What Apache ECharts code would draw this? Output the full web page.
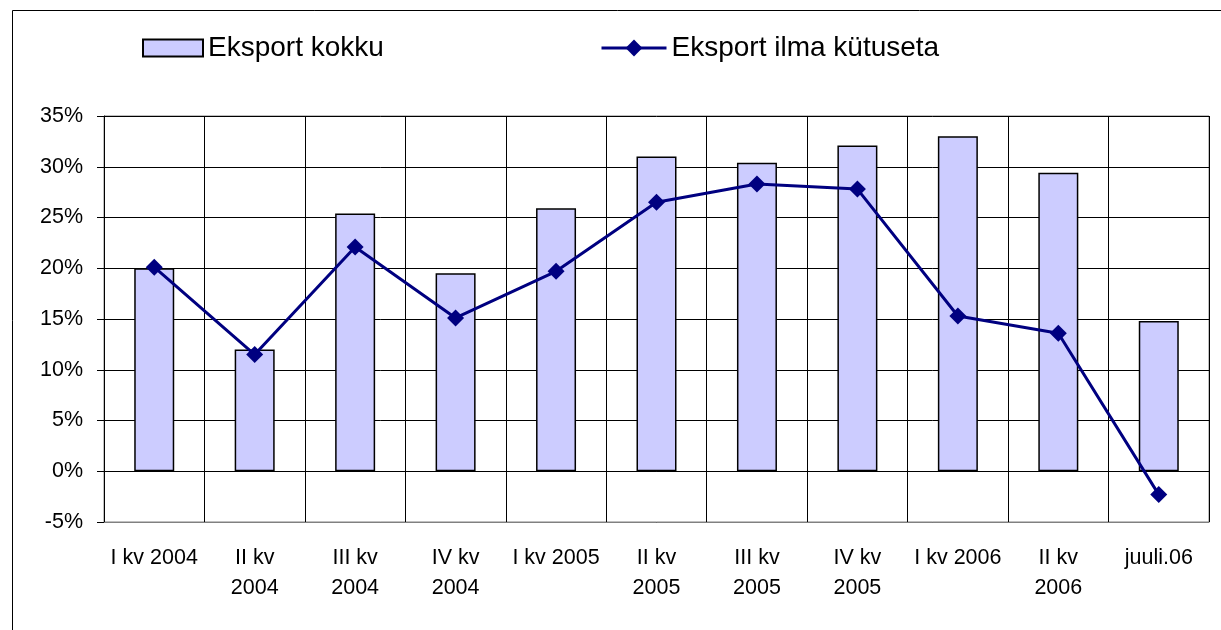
<!DOCTYPE html>
<html>
<head>
<meta charset="utf-8">
<script src="https://cdn.jsdelivr.net/npm/echarts@6/dist/echarts.min.js"></script>
<style>
  html, body { margin: 0; padding: 0; background: #fff; }
  #main { width: 1221px; height: 630px; }
</style>
</head>
<body>
<div id="main"></div>
<script>
// kvartalid (reavahetus nagu originaalis)
var categories = ['I kv 2004', 'II kv\n2004', 'III kv\n2004', 'IV kv\n2004', 'I kv 2005',
  'II kv\n2005', 'III kv\n2005', 'IV kv\n2005', 'I kv 2006', 'II kv\n2006', 'juuli.06']
var eksportKokku = [20.0, 12.0, 25.4, 19.5, 25.9, 31.0, 30.4, 32.1, 33.0, 29.4, 14.8]
var eksportIlmaKytuseta = [20.1, 11.5, 22.1, 15.1, 19.7, 26.5, 28.3, 27.8, 15.3, 13.6, -2.3]
var yMin = -5, yMax = 35, yStep = 5

var font = 'Liberation Sans, Arial, sans-serif'
var chart = echarts.init(document.getElementById('main'))

var option = {
  backgroundColor: '#fff',
  animation: false,
  graphic: [{
    type: 'rect',
    shape: { x: 12.5, y: 10.5, width: 1240, height: 660 },
    style: { fill: 'none', stroke: '#000', lineWidth: 1 },
    silent: true
  }],
  legend: [{
    top: 29,
    left: 137,
    itemWidth: 60,
    itemHeight: 17,
    textStyle: { fontFamily: font, fontSize: 28, color: '#000', padding: [0, 0, 0, 0] },
    data: [{ name: 'Eksport kokku', icon: 'rect' }]
  }, {
    top: 29,
    left: 595,
    itemWidth: 65,
    itemHeight: 21,
    textStyle: { fontFamily: font, fontSize: 28, color: '#000', padding: [0, 0, 0, 0] },
    data: [{ name: 'Eksport ilma kütuseta', lineStyle: { width: 3, color: '#000080' } }]
  }],
  grid: {
    left: 104, right: 12, top: 116, bottom: 108,
    show: true, borderColor: '#808080', borderWidth: 1
  },
  xAxis: [{
    type: 'category',
    data: categories,
    boundaryGap: true,
    axisLine: { onZero: false, lineStyle: { color: '#808080', width: 1 } },
    axisTick: { show: false },
    axisLabel: { fontFamily: font, fontSize: 21.5, color: '#000', margin: 21, lineHeight: 30, interval: 0 },
    splitLine: { show: true, interval: 0, lineStyle: { color: '#000', width: 1 } }
  }, {
    type: 'category',
    data: categories,
    boundaryGap: true,
    axisLine: { onZero: true, lineStyle: { color: '#000', width: 1 } },
    axisTick: { show: true, inside: false, length: 6, interval: 0, lineStyle: { color: '#000' } },
    axisLabel: { show: false },
    splitLine: { show: false }
  }],
  yAxis: {
    type: 'value',
    min: yMin, max: yMax, interval: yStep,
    axisLine: { show: true, lineStyle: { color: '#000', width: 1 } },
    axisTick: { show: true, length: 7, lineStyle: { color: '#000' } },
    axisLabel: { fontFamily: font, fontSize: 21.5, color: '#000', margin: 21, formatter: '{value}%' },
    splitLine: { show: true, lineStyle: { color: '#000', width: 1 } }
  },
  series: [{
    name: 'Eksport kokku',
    type: 'bar',
    xAxisIndex: 0,
    data: eksportKokku,
    barWidth: 40,
    itemStyle: { color: '#CCCCFF', borderColor: '#000', borderWidth: 1.5 }
  }, {
    name: 'Eksport ilma kütuseta',
    type: 'line',
    xAxisIndex: 0,
    data: eksportIlmaKytuseta,
    symbol: 'diamond',
    symbolSize: 17,
    lineStyle: { color: '#000080', width: 3 },
    itemStyle: { color: '#000080' }
  }]
}
chart.setOption(option)
</script>
</body>
</html>
